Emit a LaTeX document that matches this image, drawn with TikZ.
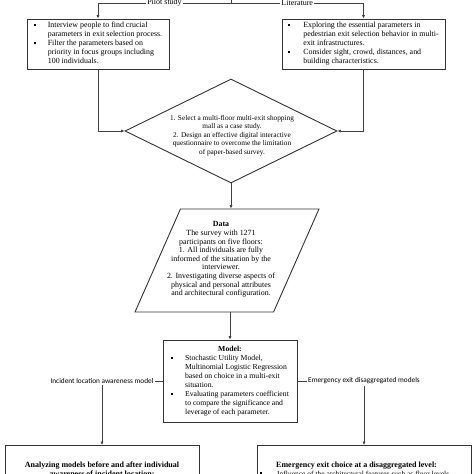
\documentclass[tikz,border=0pt]{standalone}
\usepackage{fontspec}
\setmainfont{Liberation Serif}
\newfontfamily\sidefont{Carlito}
\usetikzlibrary{shapes.geometric,arrows.meta}
\newcommand{\sqb}{\raisebox{1.7pt}{\rule{2pt}{2pt}}}

\begin{document}
\begin{tikzpicture}[x=1pt,y=-1pt,
    box/.style={draw=black!80,line width=0.9pt,inner sep=0pt,font=\fontsize{7.9}{9}\selectfont},
    lbl/.style={fill=white,inner sep=1pt,font=\fontsize{8}{9}\selectfont},
    sidelbl/.style={fill=white,inner sep=1.5pt,font=\sidefont\fontsize{7.3}{9}\selectfont},
    conn/.style={draw=black!75,line width=0.7pt},
    arr/.style={conn,-{Latex[length=3.5pt,width=3.2pt]}}]
  \useasboundingbox (0,0) rectangle (474,474);
  \clip (0,0) rectangle (474,474);
  \draw
    (98,44) node[box,minimum width=142,minimum height=50] (pilot) {%
      \begin{tabular}{@{}p{14pt}@{}l@{}}
        \sqb & Interview people to find crucial\\
             & parameters in exit selection process.\\
        \sqb & Filter the parameters based on\\
             & priority in focus groups including\\
             & 100 individuals.
      \end{tabular}}
    (363.5,44) node[box,minimum width=163,minimum height=50] (lit) {%
      \begin{tabular}{@{}p{15pt}@{}l@{}}
        \sqb & Exploring the essential parameters in\\
             & pedestrian exit selection behavior in multi-\\
             & exit infrastructures.\\
        \sqb & Consider sight, crowd, distances, and\\
             & building characteristics.
      \end{tabular}}
    (231,131) node[box,diamond,inner sep=2pt,minimum width=212,minimum height=104] (dia) {}
    (232,135.5) node[font=\fontsize{7.3}{8.4}\selectfont,align=center] (diatxt) {%
      1. Select a multi-floor multi-exit shopping\\
      mall as a case study.\\
      2. Design an effective digital interactive\\
      questionnaire to overcome the limitation\\
      of paper-based survey.}
    (227,260.5) node[box,trapezium,inner sep=2pt,trapezium left angle=64,trapezium right angle=116,
      trapezium stretches=true,minimum width=184,minimum height=103] (data) {}
    (221,259.5) node[font=\fontsize{7.9}{8.6}\selectfont,align=center] (datatxt) {%
      \textbf{Data}\\
      The survey with 1271\\
      participants on five floors:\\
      1. All individuals are fully\\
      informed of the situation by the\\
      interviewer.\\
      2. Investigating diverse aspects of\\
      physical and personal attributes\\
      and architectural configuration.}
    (230,381) node[box,minimum width=134,minimum height=82,font=\fontsize{7.7}{9}\selectfont] (model) {%
      \begin{tabular}{@{}p{14pt}@{}l@{}}
        \multicolumn{2}{@{}c@{}}{\textbf{Model:}\hspace{16pt}}\\
        \sqb & Stochastic Utility Model,\\
             & Multinomial Logistic Regression\\
             & based on choice in a multi-exit\\
             & situation.\\
        \sqb & Evaluating parameters coefficient\\
             & to compare the significance and\\
             & leverage of each parameter.
      \end{tabular}}
    (102,445) node[box,anchor=north,minimum width=194,minimum height=60] (aware) {}
    (364,445) node[box,anchor=north,minimum width=214,minimum height=60] (disagg) {}
    (102,461.5) node[anchor=north,inner sep=0pt,align=center,
      font=\fontsize{8}{9.5}\selectfont\bfseries] (awaretxt) {%
      Analyzing models before and after individual\\
      awareness of incident location:}
    (260,461.5) node[anchor=north west,inner sep=0pt,font=\fontsize{7.5}{8.5}\selectfont] (disaggtxt) {%
      \begin{tabular}{@{}p{17pt}@{}l@{}}
        \multicolumn{2}{@{}l@{}}{\hspace{16pt}\fontsize{8}{9}\selectfont\bfseries Emergency exit choice at a disaggregated level:}\\
        \sqb & Influence of the architectural features such as floor levels
      \end{tabular}};
  \coordinate (src) at (231,-10);
  \coordinate (split) at (231,3);
  \draw[conn] (src) -- (split);
  \begin{scope}[arr]
    \draw (split) -| node[lbl,pos=0.25] {Pilot study} (pilot.north);
    \draw (split) -| node[lbl,pos=0.25] {Literature} (lit.north);
    \draw (pilot.south) |- (dia.west);
    \draw (lit.south) |- (dia.east);
    \draw (dia.south) -- (dia.south |- data.north);
    \draw (model.north |- data.south) -- (model.north);
    \draw (model.west) -| node[sidelbl,pos=0.5] {Incident location awareness model} (aware.north);
    \draw (model.east) -| node[sidelbl,pos=0.5] {Emergency exit disaggregated models} (disagg.north);
  \end{scope}
\end{tikzpicture}
\end{document}
